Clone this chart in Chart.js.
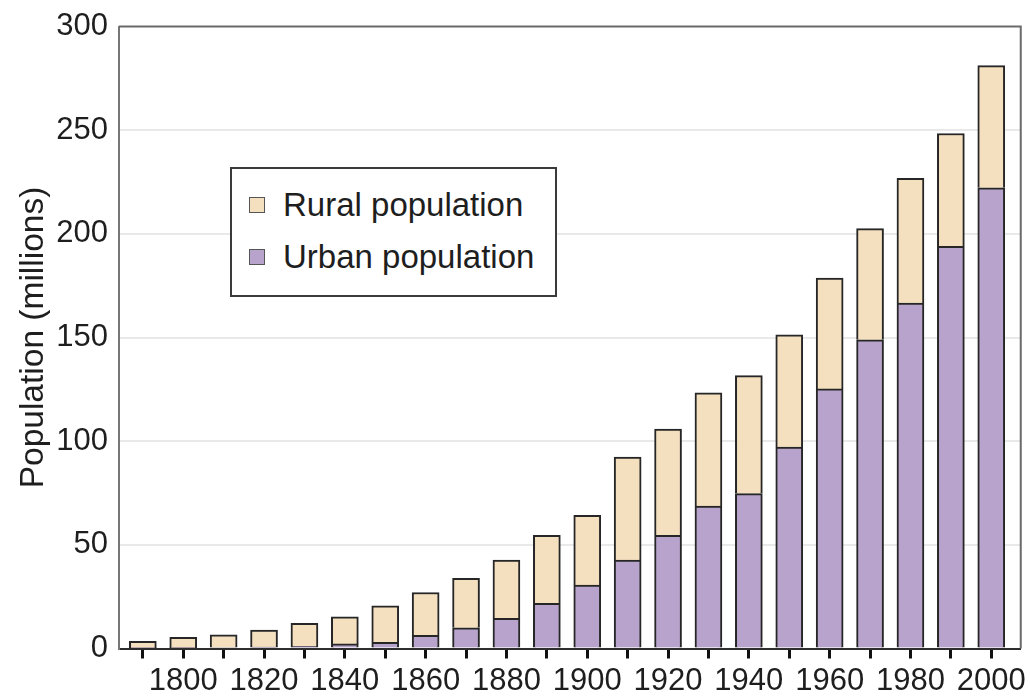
<!DOCTYPE html>
<html>
<head>
<meta charset="utf-8">
<title>Population (millions)</title>
<script src="https://cdn.jsdelivr.net/npm/chart.js@4/dist/chart.umd.min.js"></script>
<style>
  html, body { margin: 0; padding: 0; background: #ffffff; }
  #wrap { position: relative; width: 1030px; height: 700px; }
  #chart { display: block; }
  #legend {
    position: absolute; left: 230px; top: 167px; width: 327px; height: 130px;
    box-sizing: border-box; border: 2px solid #3a3a3a; background: #ffffff;
    font-family: "Liberation Sans", Arial, sans-serif; font-size: 33px; color: #1e1e1e;
  }
  #legend .item { position: absolute; left: 17px; height: 40px; display: flex; align-items: center; }
  #legend .sw { width: 14px; height: 14px; border: 1.5px solid #555; margin-right: 18px; }
</style>
</head>
<body>
<div id="wrap">
  <canvas id="chart" width="1030" height="700"></canvas>
  <div id="legend"></div>
</div>
<script>
// Census years (one bar per decade)
const years = [1790, 1800, 1810, 1820, 1830, 1840, 1850, 1860, 1870, 1880, 1890,
               1900, 1910, 1920, 1930, 1940, 1950, 1960, 1970, 1980, 1990, 2000];

// Urban population, millions
const urban = [0.2, 0.3, 0.5, 0.7, 1.1, 2.2, 3.0, 6.4, 10.0, 14.5, 21.8,
               30.6, 42.6, 54.6, 68.7, 74.7, 97.1, 125.2, 148.9, 166.6, 194.0, 222.2];

// Rural population, millions
const rural = [3.3, 5.1, 6.1, 8.2, 11.0, 13.1, 17.6, 20.6, 23.8, 28.1, 32.8,
               33.6, 49.7, 51.2, 54.6, 56.9, 54.2, 53.5, 53.6, 60.2, 54.4, 58.9];

// Years that carry a text label under the axis
const labelledYears = [1800, 1820, 1840, 1860, 1880, 1900, 1920, 1940, 1960, 1980, 2000];

const yTicks = [0, 50, 100, 150, 200, 250, 300];

const RURAL_FILL = '#f4dfbf';
const URBAN_FILL = '#b7a3cb';
const OUTLINE = '#262626';

const textFont = '"Liberation Sans", Arial, sans-serif';

// Grey frame round the plotting area (top and right sides)
const frame = {
  id: 'frame',
  afterDraw(chart) {
    const { ctx, chartArea: a } = chart;
    ctx.save();
    ctx.strokeStyle = '#6a6a6a';
    ctx.lineWidth = 2;
    ctx.beginPath();
    ctx.moveTo(a.left, a.top);
    ctx.lineTo(a.right, a.top);
    ctx.lineTo(a.right, a.bottom);
    ctx.stroke();
    ctx.restore();
  }
};

const chart = new Chart(document.getElementById('chart'), {
  type: 'bar',
  data: {
    datasets: [
      {
        label: 'Urban population',
        data: years.map((y, i) => ({ x: y, y: urban[i] })),
        backgroundColor: URBAN_FILL,
        borderColor: OUTLINE,
        borderWidth: 2,
        barThickness: 27
      },
      {
        label: 'Rural population',
        data: years.map((y, i) => ({ x: y, y: rural[i] })),
        backgroundColor: RURAL_FILL,
        borderColor: OUTLINE,
        borderWidth: 2,
        barThickness: 27
      }
    ]
  },
  plugins: [frame],
  options: {
    responsive: false,
    animation: false,
    layout: { padding: { top: 16, right: 8, bottom: 0, left: 0 } },
    plugins: { legend: { display: false }, tooltip: { enabled: false } },
    scales: {
      x: {
        type: 'linear',
        stacked: true,
        offset: false,
        min: 1784.1,
        max: 2007.3,
        afterBuildTicks(scale) { scale.ticks = years.map(v => ({ value: v })); },
        afterFit(scale) { scale.height = 51.5; },
        ticks: {
          autoSkip: false,
          maxRotation: 0,
          padding: 4,
          color: '#1e1e1e',
          font: { family: textFont, size: 31 },
          callback: v => labelledYears.includes(v) ? String(v) : ''
        },
        grid: {
          offset: false,
          drawOnChartArea: false,
          drawTicks: true,
          tickLength: 10,
          tickWidth: 3,
          tickColor: '#111111'
        },
        border: { display: true, color: '#2e2e2e', width: 2 }
      },
      y: {
        stacked: true,
        min: 0,
        max: 300,
        afterBuildTicks(scale) { scale.ticks = yTicks.map(v => ({ value: v })); },
        afterFit(scale) { scale.width = 119; },
        ticks: {
          padding: 11,
          color: '#1e1e1e',
          font: { family: textFont, size: 31, lineHeight: 1.0 }
        },
        grid: {
          drawTicks: false,
          lineWidth: 2,
          color: c => (c.tick.value === 0 || c.tick.value === 300) ? 'rgba(0,0,0,0)' : '#e9e9e9'
        },
        border: { display: true, color: '#777777', width: 2 },
        title: {
          display: true,
          text: 'Population (millions)',
          color: '#1e1e1e',
          font: { family: textFont, size: 33.5 },
          padding: { top: 14, bottom: 0 }
        }
      }
    }
  }
});

// Legend built from the datasets (rural listed first)
const legend = document.getElementById('legend');
[1, 0].forEach((di, row) => {
  const ds = chart.data.datasets[di];
  const item = document.createElement('div');
  item.className = 'item';
  item.style.top = (16 + row * 52) + 'px';
  const sw = document.createElement('span');
  sw.className = 'sw';
  sw.style.background = ds.backgroundColor;
  const tx = document.createElement('span');
  tx.textContent = ds.label;
  item.appendChild(sw);
  item.appendChild(tx);
  legend.appendChild(item);
});
</script>
</body>
</html>
